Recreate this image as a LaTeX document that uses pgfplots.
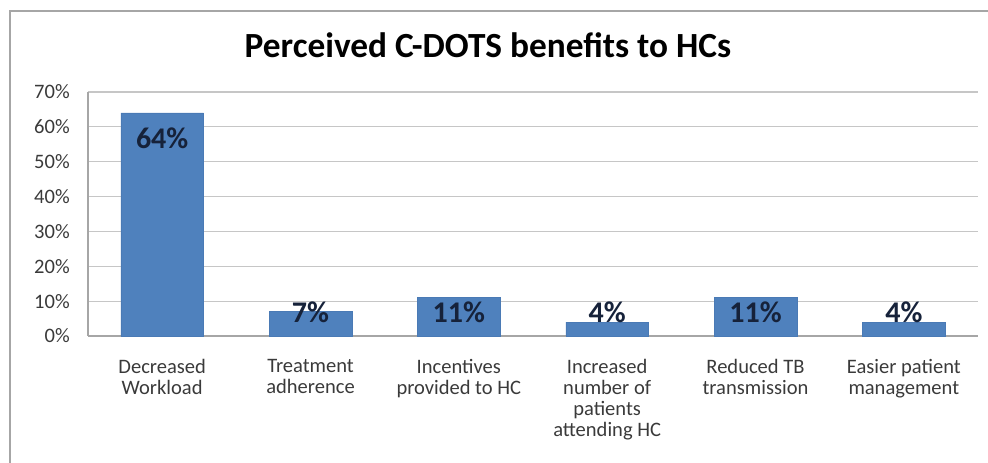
\documentclass[border=0pt]{standalone}
\usepackage{pgfplots}
\pgfplotsset{compat=1.18}
\usepackage{fontspec}
\setmainfont{Carlito}
\definecolor{barblue}{HTML}{4F81BD}
\definecolor{bardark}{HTML}{4A7AB5}
\definecolor{gridgray}{HTML}{C6C6C6}
\definecolor{axisgray}{HTML}{A6A6A6}
\definecolor{txt}{HTML}{3A3A3A}
\definecolor{lbl}{HTML}{16223A}
\begin{document}
\begin{tikzpicture}[x=0.75pt,y=0.75pt]
\coordinate (A) at (88,127);
\draw[axisgray, line width=1.5pt] (10,0) -- (10,452) -- (988,452);
\node[anchor=base, font=\fontsize{26.5}{30}\selectfont\bfseries, text=black] at (488,405) {Perceived C-DOTS benefits to HCs};
\begin{axis}[
  at={(A)}, anchor=south west,
  scale only axis,
  width=667.5pt, height=183pt,
  xmin=-0.5, xmax=5.5,
  ymin=0, ymax=70,
  ytick={0,10,20,30,40,50,60,70},
  yticklabels={0\%,10\%,20\%,30\%,40\%,50\%,60\%,70\%},
  xtick={0,1,2,3,4,5},
  xticklabels={{Decreased\\Workload},{Treatment\\adherence},{Incentives\\provided to HC},{Increased\\number of\\patients\\attending HC},{Reduced TB\\transmission},{Easier patient\\management}},
  ymajorgrids,
  grid style={gridgray, line width=0.9pt},
  axis x line*=bottom,
  axis y line*=left,
  axis line style={axisgray, line width=0.9pt},
  x axis line style={-},
  y axis line style={-},
  major tick length=0pt,
  tick style={draw=none},
  yticklabel style={font=\fontsize{15.4}{15.75}\selectfont, text=txt, inner sep=0pt},
  yticklabel shift=13.5pt,
  xticklabel style={font=\fontsize{15.4}{15.75}\selectfont, text=txt, inner sep=0pt, align=center, anchor=north},
  xticklabel shift=17.5pt,
  clip=false,
]
\addplot[ybar, bar width=62pt, fill=barblue, draw=bardark] coordinates {(0,64) (1,7) (2,11) (3,4) (4,11) (5,4)};
\addplot[draw=none, mark=none, nodes near coords, point meta=explicit symbolic,
  nodes near coords style={anchor=center, font=\fontsize{22.5}{25}\selectfont\bfseries, text=lbl}]
  coordinates {(0,56.7)[64\%] (1,6.9)[7\%] (2,6.8)[11\%] (3,6.9)[4\%] (4,6.8)[11\%] (5,6.9)[4\%]};
\end{axis}
\pgfresetboundingbox
\useasboundingbox (0,0) rectangle (988,463);
\end{tikzpicture}
\end{document}
